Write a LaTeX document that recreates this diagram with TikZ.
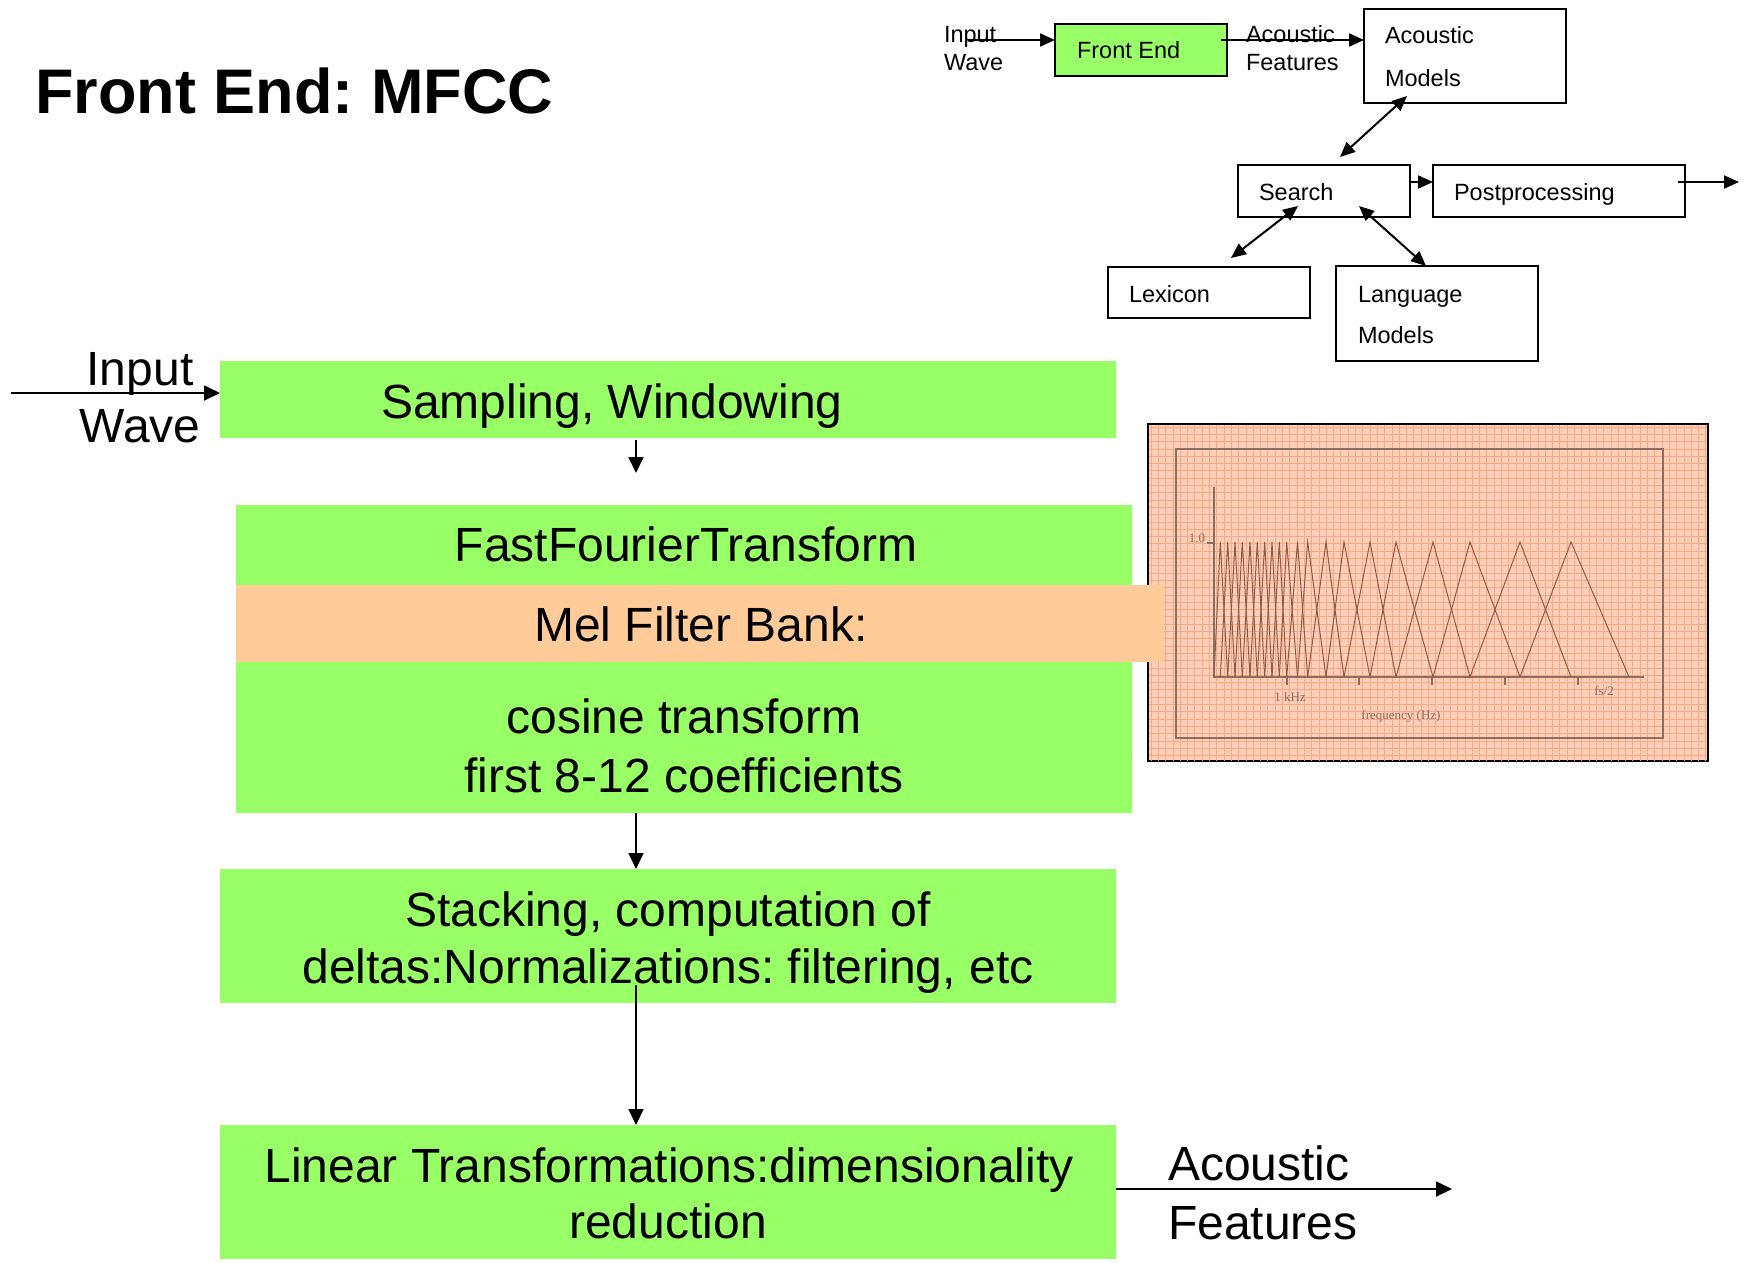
\documentclass[tikz,border=0pt]{standalone}
\usepackage{fontspec}
\setmainfont{Liberation Sans}
\newfontfamily\plotfont{Liberation Serif}
\usetikzlibrary{arrows.meta}
\definecolor{boxgreen}{RGB}{153,255,102}
\definecolor{melpeach}{RGB}{255,204,153}
\definecolor{plotbg}{RGB}{255,206,184}
\definecolor{plotgrid}{RGB}{246,170,132}
\definecolor{plotline}{RGB}{140,92,72}
\definecolor{plotframe}{RGB}{140,110,95}
\frenchspacing
\begin{document}
\begin{tikzpicture}[x=1pt,y=-1pt,
  gbox/.style={fill=boxgreen, draw=none, inner sep=0pt, outer sep=0pt},
  pbox/.style={fill=melpeach, draw=none, inner sep=0pt, outer sep=0pt},
  sbox/.style={draw=black, line width=2.5pt, inner sep=0pt, outer sep=0pt},
  bigtxt/.style={font=\fontsize{48}{58}\selectfont, inner sep=0pt, outer sep=0pt, anchor=base},
  bigleft/.style={bigtxt, anchor=base west},
  smalltxt/.style={font=\fontsize{23.5}{28}\selectfont, inner sep=0pt, outer sep=0pt, anchor=base west},
  plottxt/.style={font=\plotfont\fontsize{13}{15}\selectfont, text=plotframe, inner sep=0pt, outer sep=0pt, anchor=base},
  arr/.style={line width=1.8pt, -{Triangle[length=16pt,width=15pt]}},
  sarr/.style={line width=2pt, -{Triangle[length=15pt,width=13pt]}},
  darr/.style={line width=2pt, {Triangle[length=15pt,width=13pt]}-{Triangle[length=15pt,width=13pt]}}
]
\useasboundingbox (0,0) rectangle (1749,1262);
\fill[white] (0,0) rectangle (1749,1262);

% Title
\node[font=\bfseries\fontsize{63}{72}\selectfont, inner sep=0pt, anchor=base west] (title) at (35,113) {Front End: MFCC};

% ---------- Filter bank plot ----------
\node[draw=black, line width=2.5pt, fill=plotbg, minimum width=560pt, minimum height=337pt, inner sep=0pt, outer sep=0pt] (plot) at (1428,592.5) {};
\begin{scope}
  \clip (1149,425) rectangle (1707,760);
  \foreach \gx in {1151,1158.3,...,1708} \draw[plotgrid, line width=0.7pt] (\gx,424) -- (\gx,761);
  \foreach \gy in {427,434.3,...,761} \draw[plotgrid, line width=0.7pt] (1148,\gy) -- (1708,\gy);
\end{scope}
\draw[plotframe, line width=1.5pt] (1176,449) rectangle (1663,738);
\draw[plotframe, line width=1.2pt] (1214,487) -- (1214,677) -- (1644,677);
\draw[plotframe, line width=1.2pt] (1207,543) -- (1214,543);
\foreach \tx in {1287,1359,1432,1505,1578} \draw[plotframe, line width=1.2pt] (\tx,677) -- (\tx,685);
\foreach \a/\b/\c in {1214/1220.3/1227.7, 1220.3/1227.7/1235, 1227.7/1235/1242.3, 1235/1242.3/1250,
  1242.3/1250/1257.3, 1250/1257.3/1264.7, 1257.3/1264.7/1272, 1264.7/1272/1279.3, 1272/1279.3/1286.7,
  1279.3/1286.7/1297.5, 1286.7/1297.5/1307.7, 1297.5/1307.7/1326, 1307.7/1326/1344, 1326/1344/1370,
  1344/1370/1396, 1370/1396/1433, 1396/1433/1470, 1433/1470/1520, 1470/1520/1571, 1520/1571/1629}
  \draw[plotline, line width=1pt, line join=miter] (\a,677) -- (\b,542) -- (\c,677);
\node[plottxt, anchor=base east] (one) at (1205,542) {1.0};
\node[plottxt] (khz) at (1290,701) {1 kHz};
\node[plottxt] (fs) at (1604,695) {fs/2};
\node[plottxt] (freq) at (1401,719) {frequency (Hz)};

% ---------- Main pipeline ----------
\node[gbox, minimum width=896pt, minimum height=77pt] (samp) at (668,399.5) {};
\node[gbox, minimum width=896pt, minimum height=80pt] (fft) at (684,545) {};
\node[gbox, minimum width=896pt, minimum height=151pt] (cos) at (684,737.5) {};
\node[pbox, minimum width=928pt, minimum height=77pt] (mel) at (700,623.5) {};
\node[gbox, minimum width=896pt, minimum height=134pt] (stack) at (668,936) {};
\node[gbox, minimum width=896pt, minimum height=134pt] (lin) at (668,1192) {};

\node[bigtxt] (tsamp) at (612,418) {Sampling, Windowing};
\node[bigtxt] (tfft) at (686,561) {FastFourierTransform};
\node[bigtxt] (tmel) at (701,641) {Mel Filter Bank:};
\node[bigtxt] (tcos1) at (684,733) {cosine transform};
\node[bigtxt] (tcos2) at (684,792) {first 8-12 coefficients};
\node[bigtxt] (tst1) at (668,926) {Stacking, computation of};
\node[bigtxt] (tst2) at (668,983) {deltas:Normalizations: filtering, etc};
\node[bigtxt] (tlin1) at (669,1182) {Linear Transformations:dimensionality};
\node[bigtxt] (tlin2) at (668,1238) {reduction};

\node[bigtxt] (tin1) at (140,385) {Input};
\node[bigtxt] (tin2) at (140,442) {Wave};
\node[bigleft] (tout1) at (1168,1180) {Acoustic};
\node[bigleft] (tout2) at (1168,1239) {Features};

\coordinate (ax) at (636,0);
\coordinate (a1s) at (636,440);
\coordinate (a1e) at (636,473);
\coordinate (a3s) at (636,985);
\coordinate (instart) at (11,393);
\coordinate (outend) at (1452,1189);

\draw[arr] (a1s) -- (a1e);
\draw[arr] (cos.south -| ax) -- (stack.north -| ax);
\draw[arr] (a3s) -- (lin.north -| ax);
\draw[arr] (instart) -- (instart -| samp.west);
\draw[arr] (outend -| lin.east) -- (outend);

% ---------- Small overview diagram ----------
\node[sbox, fill=boxgreen, minimum width=172pt, minimum height=52pt] (fe) at (1141,50) {};
\node[sbox, minimum width=202pt, minimum height=94pt] (am) at (1465,56) {};
\node[sbox, minimum width=172pt, minimum height=52pt] (srch) at (1324,191) {};
\node[sbox, minimum width=252pt, minimum height=52pt] (post) at (1559,191) {};
\node[sbox, minimum width=202pt, minimum height=51pt] (lex) at (1209,292.5) {};
\node[sbox, minimum width=202pt, minimum height=95pt] (lm) at (1437,313.5) {};

\node[smalltxt] (sin1) at (944,42) {Input};
\node[smalltxt] (sin2) at (944,70) {Wave};
\node[smalltxt] (sfe) at (1077,58) {Front End};
\node[smalltxt] (saf1) at (1246,42) {Acoustic};
\node[smalltxt] (saf2) at (1246,70) {Features};
\node[smalltxt] (sam1) at (1385,43) {Acoustic};
\node[smalltxt] (sam2) at (1385,86) {Models};
\node[smalltxt] (ssr) at (1259,200) {Search};
\node[smalltxt] (spp) at (1454,200) {Postprocessing};
\node[smalltxt] (slx) at (1129,302) {Lexicon};
\node[smalltxt] (slm1) at (1358,302) {Language};
\node[smalltxt] (slm2) at (1358,343) {Models};

\coordinate (sin) at (968,40);
\coordinate (py) at (0,182);
\coordinate (pout) at (1739,182);

\draw[sarr] (sin) -- (sin -| fe.west);
\draw[sarr] ([xshift=-6pt]fe.east |- sin) -- (am.west |- sin);
\draw[darr] ([xshift=-58pt,yshift=7pt]am.south) -- ([xshift=16pt,yshift=8pt]srch.north);
\draw[sarr] (srch.east |- py) -- (post.west |- py);
\draw[sarr] ([xshift=-7pt]post.east |- py) -- (pout);
\draw[darr] ([xshift=-26pt,yshift=11pt]srch.south) -- ([xshift=22pt,yshift=9pt]lex.north);
\draw[darr] ([xshift=35pt,yshift=11pt]srch.south) -- ([xshift=-11pt]lm.north);
\end{tikzpicture}
\end{document}
